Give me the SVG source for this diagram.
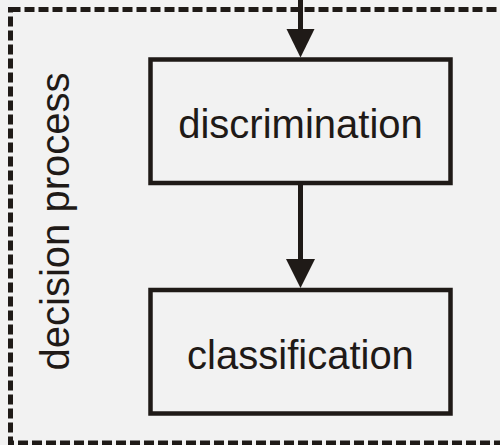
<svg xmlns="http://www.w3.org/2000/svg" width="500" height="445" viewBox="0 0 500 445">
  <style>
    .frame { fill: none; stroke: #1f1a17; stroke-width: 5; stroke-dasharray: 10 4; }
    .box { fill: none; stroke: #1f1a17; stroke-width: 4.5; }
    .label { font-family: "Liberation Sans", Arial, sans-serif; font-size: 40px; fill: #1f1a17; }
    .edge { stroke: #1f1a17; stroke-width: 5; fill: none; }
    .head { fill: #1f1a17; }
  </style>
  <rect width="500" height="445" fill="#f2f2f2"/>

  <!-- decision process boundary -->
  <g id="decision-process">
    <rect class="frame" x="10.5" y="9.5" width="520" height="433.5"/>
    <text class="label" transform="translate(69,221.5) rotate(-90)" text-anchor="middle">decision process</text>
  </g>

  <g id="discrimination">
    <rect class="box" x="150.5" y="59.5" width="300" height="123.5"/>
    <text class="label" x="300.5" y="138.3" text-anchor="middle">discrimination</text>
  </g>

  <g id="classification">
    <rect class="box" x="150.5" y="290" width="300" height="123.5"/>
    <text class="label" x="300.5" y="369" text-anchor="middle">classification</text>
  </g>

  <g id="connectors">
    <line class="edge" x1="300.5" y1="0" x2="300.5" y2="32"/>
    <polygon class="head" points="286.5,29 314.5,29 300.5,57.5"/>
    <line class="edge" x1="300.5" y1="183" x2="300.5" y2="262"/>
    <polygon class="head" points="286,259 315,259 300.5,288"/>
  </g>
</svg>
